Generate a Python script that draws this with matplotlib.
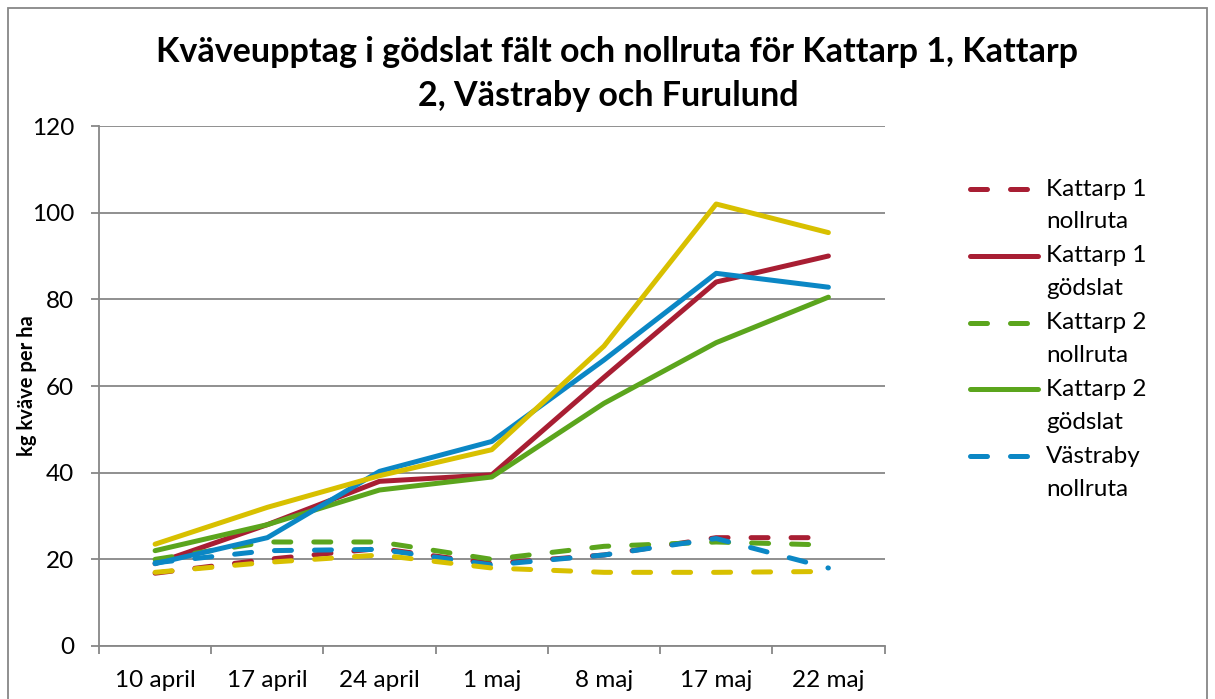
import matplotlib
matplotlib.use("Agg")
import matplotlib.pyplot as plt
from matplotlib.lines import Line2D
from matplotlib.patches import Rectangle
import numpy as np

plt.rcParams['font.family'] = ['Lato', 'DejaVu Sans']

# data
dates = ['10 april', '17 april', '24 april', '1 maj', '8 maj', '17 maj', '22 maj']
k1_noll = [16.8, 20.0, 22.5, 19.0, 21.0, 25.0, 25.0]
k1_godslat = [19.0, 28.0, 38.0, 39.5, 62.0, 84.0, 90.0]
k2_noll = [20.0, 24.0, 24.0, 20.0, 23.0, 24.0, 23.3]
k2_godslat = [22.0, 28.0, 36.0, 39.0, 56.0, 70.0, 80.5]
vastraby_noll = [19.2, 22.0, 22.3, 18.7, 21.0, 24.8, 18.0]
vastraby_godslat = [19.0, 25.0, 40.3, 47.2, 66.0, 86.0, 82.8]
furulund_noll = [17.0, 19.3, 21.0, 18.0, 17.0, 17.0, 17.2]
furulund_godslat = [23.5, 32.0, 39.3, 45.3, 69.2, 102.0, 95.4]

RED = '#A81E33'
GREEN = '#5BA51D'
BLUE = '#0B87C5'
YELLOW = '#D8C000'
GRID = '#878787'
LW = 3.6
DASH = (0, (3.4, 4.6))
FS = 17.5

series = [
    ('Kattarp 1\nnollruta', k1_noll, RED, DASH),
    ('Kattarp 1\ngödslat', k1_godslat, RED, '-'),
    ('Kattarp 2\nnollruta', k2_noll, GREEN, DASH),
    ('Kattarp 2\ngödslat', k2_godslat, GREEN, '-'),
    ('Västraby\nnollruta', vastraby_noll, BLUE, DASH),
    ('Västraby\ngödslat', vastraby_godslat, BLUE, '-'),
    ('Furulund\nnollruta', furulund_noll, YELLOW, DASH),
    ('Furulund\ngödslat', furulund_godslat, YELLOW, '-'),
]

W, H = 1215, 699
fig = plt.figure(figsize=(W / 100, H / 100), dpi=100)
ax = fig.add_axes([99 / W, (H - 646) / H, (884.5 - 99) / W, (646 - 126) / H])

x = np.arange(len(dates))
for i, (label, vals, color, ls) in enumerate(series):
    ax.plot(x, vals, color=color, lw=LW, linestyle=ls,
            dash_capstyle='round', solid_capstyle='round',
            solid_joinstyle='round', dash_joinstyle='round', zorder=3 + i)

ax.set_xlim(-0.5, len(dates) - 0.5)
ax.set_ylim(0, 120)
ax.set_yticks(np.arange(0, 121, 20))
ax.yaxis.grid(True, color=GRID, lw=1.3)
ax.set_axisbelow(True)

ax.set_xticks(np.arange(-0.5, len(dates), 1))
ax.set_xticklabels([])
ax.set_xticks(x, minor=True)
ax.set_xticklabels(dates, minor=True)
ax.tick_params(axis='x', which='major', length=6, width=1.3, color=GRID)
ax.tick_params(axis='x', which='minor', length=0, pad=17, labelsize=FS)
ax.tick_params(axis='y', length=6, width=1.3, color=GRID, labelsize=FS, pad=12)

for s in ['top', 'right']:
    ax.spines[s].set_visible(False)
for s in ['left', 'bottom']:
    ax.spines[s].set_color(GRID)
    ax.spines[s].set_linewidth(1.3)

ax.set_ylabel('kg kväve per ha', fontsize=14.5, fontweight='bold')
ax.yaxis.set_label_coords((37 - 99) / 785.5, 0.5)

fig.text(617 / W, 1 - 52 / H, 'Kväveupptag i gödslat fält och nollruta för Kattarp 1, Kattarp',
         ha='center', va='center', fontsize=24.5, fontweight='bold')
fig.text(608 / W, 1 - 96 / H, '2, Västraby och Furulund',
         ha='center', va='center', fontsize=24.5, fontweight='bold')

# Excel legend only shows the first five entries
for i, (label, vals, color, ls) in enumerate(series[:5]):
    yc = 189 + i * 66.8
    fig.add_artist(Line2D([970 / W, 1038 / W], [1 - yc / H, 1 - yc / H],
                          color=color, lw=LW, linestyle=ls,
                          dash_capstyle='round', solid_capstyle='round'))
    first, second = label.split('\n')
    fig.text(1046 / W, 1 - yc / H, first, ha='left', va='center', fontsize=FS)
    fig.text(1046 / W, 1 - (yc + 33) / H, second, ha='left', va='center', fontsize=FS)

fig.add_artist(Rectangle((8 / W, -0.05), 1199 / W, 1.05 - 8 / H, fill=False,
                         edgecolor=GRID, lw=1.3, transform=fig.transFigure))

fig.savefig('out.png', dpi=100)
